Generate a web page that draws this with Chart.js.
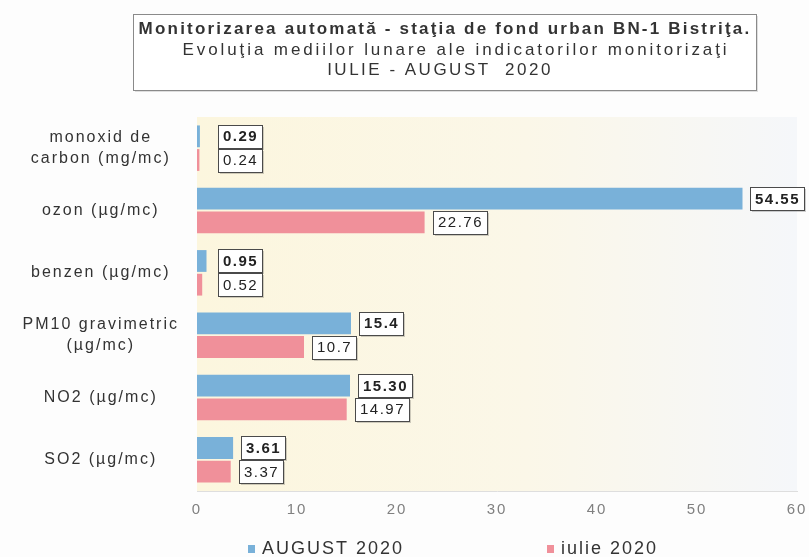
<!DOCTYPE html>
<html>
<head>
<meta charset="utf-8">
<script src="https://cdn.jsdelivr.net/npm/chart.js@4"></script>
<style>
  html, body { margin: 0; padding: 0; background: #fdfdfd; }
</style>
</head>
<body>
<canvas id="grafic" width="809" height="557"></canvas>
<script>
// date
const categorii = [
  ["monoxid de", "carbon (mg/mc)"],
  "ozon (µg/mc)",
  "benzen (µg/mc)",
  ["PM10 gravimetric", "(µg/mc)"],
  "NO2 (µg/mc)",
  "SO2 (µg/mc)"
];
const valoriAugust = [0.29, 54.55, 0.95, 15.4, 15.30, 3.61];
const valoriIulie = [0.24, 22.76, 0.52, 10.7, 14.97, 3.37];
const eticheteAugust = ["0.29", "54.55", "0.95", "15.4", "15.30", "3.61"];
const eticheteIulie = ["0.24", "22.76", "0.52", "10.7", "14.97", "3.37"];
const serii = ["AUGUST 2020", "iulie 2020"];
const titlu = [
  "Monitorizarea automată - staţia de fond urban BN-1 Bistriţa.",
  "Evoluţia mediilor lunare ale indicatorilor monitorizaţi",
  "IULIE - AUGUST  2020"
];
const axaMin = 0;
const axaMax = 60;
const pasAxa = 10;

const FONT = "'Liberation Sans', Arial, sans-serif";

// textul din original e destul de "rasfirat"
const spatiere = {
  id: "spatiere",
  beforeUpdate(chart) { chart.ctx.letterSpacing = "2px"; },
  beforeDraw(chart) { chart.ctx.letterSpacing = "2px"; }
};

const fundal = {
  id: "fundal",
  beforeDraw(chart) {
    const { ctx, chartArea: a } = chart;
    ctx.save();
    ctx.fillStyle = "#fdfdfd";
    ctx.fillRect(0, 0, chart.width, chart.height);

    const g = ctx.createLinearGradient(a.left, 0, a.right, 0);
    g.addColorStop(0, "#fcf6de");
    g.addColorStop(0.55, "#fbf7e8");
    g.addColorStop(1, "#f5f7fa");
    ctx.fillStyle = g;
    ctx.fillRect(a.left, a.top, a.right - a.left, a.bottom - a.top);
    ctx.restore();
  }
};

// caseta cu titlul, fiecare rand cu fontul lui
const casetaTitlu = {
  id: "casetaTitlu",
  afterDraw(chart) {
    const ctx = chart.ctx;
    ctx.save();
    ctx.fillStyle = "rgba(0,0,0,0.12)";
    ctx.fillRect(135, 16, 623, 76);
    ctx.fillStyle = "#ffffff";
    ctx.fillRect(133, 14, 623, 76);
    ctx.strokeStyle = "#8a8a8a";
    ctx.lineWidth = 1;
    ctx.strokeRect(133.5, 14.5, 623, 76);

    const stiluri = [
      { font: "bold 17px " + FONT, sp: "2.2px", x: 445, y: 29 },
      { font: "17px " + FONT, sp: "2.9px", x: 456, y: 50 },
      { font: "17px " + FONT, sp: "2.5px", x: 440, y: 70 }
    ];
    ctx.fillStyle = "#333";
    ctx.textAlign = "center";
    ctx.textBaseline = "middle";
    titlu.forEach((rand, i) => {
      ctx.font = stiluri[i].font;
      ctx.letterSpacing = stiluri[i].sp;
      ctx.fillText(rand, stiluri[i].x, stiluri[i].y);
    });
    ctx.restore();
  }
};

const etichete = {
  id: "etichete",
  afterDatasetsDraw(chart) {
    const ctx = chart.ctx;
    const x0 = chart.scales.x.getPixelForValue(0);
    [eticheteAugust, eticheteIulie].forEach((texte, di) => {
      const meta = chart.getDatasetMeta(di);
      meta.data.forEach((bar, i) => {
        ctx.save();
        ctx.letterSpacing = "1.5px";
        ctx.font = (di === 0 ? "bold " : "") + "15px " + FONT;
        const w = Math.round(ctx.measureText(texte[i]).width) + 9;
        const h = 23;
        const left = Math.round(Math.max(bar.x + 8, x0 + 21));
        const top = Math.round(bar.y - h / 2);
        ctx.fillStyle = "rgba(0,0,0,0.18)";
        ctx.fillRect(left + 2, top + 2, w, h);
        ctx.fillStyle = "#ffffff";
        ctx.fillRect(left, top, w, h);
        ctx.strokeStyle = "#4a4a4a";
        ctx.lineWidth = 1;
        ctx.strokeRect(left + 0.5, top + 0.5, w, h);
        ctx.fillStyle = "#222";
        ctx.textAlign = "left";
        ctx.textBaseline = "middle";
        ctx.fillText(texte[i], left + 5, bar.y + 1);
        ctx.restore();
      });
    });
  }
};

const legenda = {
  id: "legenda",
  afterDraw(chart) {
    const ctx = chart.ctx;
    const poz = [248, 547];
    ctx.save();
    ctx.letterSpacing = "2px";
    ctx.font = "18px " + FONT;
    ctx.textAlign = "left";
    ctx.textBaseline = "middle";
    chart.data.datasets.forEach((ds, i) => {
      ctx.fillStyle = ds.backgroundColor;
      ctx.fillRect(poz[i], 545, 7, 8);
      ctx.fillStyle = "#333";
      ctx.fillText(ds.label, poz[i] + 14, 549);
    });
    ctx.restore();
  }
};

new Chart(document.getElementById("grafic"), {
  type: "bar",
  data: {
    labels: categorii,
    datasets: [
      {
        label: serii[0],
        data: valoriAugust,
        backgroundColor: "#79b1d9",
        barPercentage: 0.92,
        categoryPercentage: 0.76
      },
      {
        label: serii[1],
        data: valoriIulie,
        backgroundColor: "#f0909a",
        barPercentage: 0.92,
        categoryPercentage: 0.76
      }
    ]
  },
  options: {
    indexAxis: "y",
    responsive: false,
    animation: false,
    devicePixelRatio: 1,
    layout: { padding: { left: 0, right: 0, top: 117, bottom: 28 } },
    plugins: {
      legend: { display: false },
      tooltip: { enabled: false },
      title: { display: false }
    },
    scales: {
      x: {
        min: axaMin,
        max: axaMax,
        ticks: {
          stepSize: pasAxa,
          color: "#808080",
          padding: 10,
          font: { family: FONT, size: 15 }
        },
        grid: { display: false, drawTicks: false },
        border: { display: true, color: "#dedede" },
        afterFit(scale) { scale.paddingRight = 12; }
      },
      y: {
        ticks: {
          color: "#333",
          crossAlign: "center",
          padding: 18,
          font: { family: FONT, size: 16, lineHeight: 1.35 }
        },
        grid: { display: false, drawTicks: false },
        border: { display: false },
        afterFit(scale) { scale.width = 197; }
      }
    }
  },
  plugins: [spatiere, fundal, etichete, casetaTitlu, legenda]
});
</script>
</body>
</html>
